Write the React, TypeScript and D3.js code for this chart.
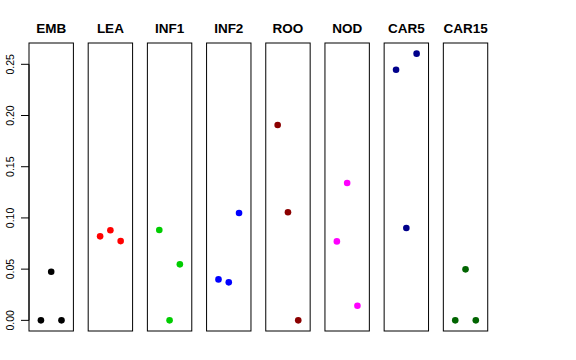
import React from "react";
import * as d3 from "d3";

const categories = ["EMB", "LEA", "INF1", "INF2", "ROO", "NOD", "CAR5", "CAR15"];
const colors = ["#000000", "#FF0000", "#00CD00", "#0000FF", "#8B0000", "#FF00FF", "#00008B", "#006400"];
const positions = [1, 2, 3];
const EMB = [0, 0.0475, 0];
const LEA = [0.082, 0.0879, 0.0774];
const INF1 = [0.0882, 0, 0.0547];
const INF2 = [0.040, 0.0371, 0.1048];
const ROO = [0.1907, 0.1055, 0];
const NOD = [0.0771, 0.1341, 0.0143];
const CAR5 = [0.2447, 0.0901, 0.2604];
const CAR15 = [0, 0.0498, 0];
const seriesValues = [EMB, LEA, INF1, INF2, ROO, NOD, CAR5, CAR15];
const yTicks = [0, 0.05, 0.1, 0.15, 0.2, 0.25];

const W = 576;
const H = 360;
const top = 43;
const bottom = 331;
const firstLeft = 29;
const step = 59.19;
const panelW = 44.4;
const font = "'Liberation Sans', Arial, Helvetica, sans-serif";

export default function App() {
  const y = d3.scaleLinear().domain([-0.0104, 0.2708]).range([bottom, top]);
  const panelX = d3.scaleLinear().domain([0, 1]).range([firstLeft, firstLeft + step]);
  return (
    <svg width={W} height={H} style={{ position: "absolute", left: 0, top: 0, background: "#fff" }}>
      <rect x={0} y={0} width={W} height={H} fill="#fff" />
      {/* y axis */}
      <line x1={firstLeft} x2={firstLeft} y1={y(0)} y2={y(0.25)} stroke="#000" strokeWidth={1} />
      {yTicks.map((t) => (
        <g key={t}>
          <line x1={firstLeft - 8} x2={firstLeft} y1={y(t)} y2={y(t)} stroke="#000" strokeWidth={1} />
          <text
            transform={`translate(13.5,${y(t)}) rotate(-90)`}
            textAnchor="middle"
            fontFamily={font}
            fontSize={10.5}
            fill="#000"
          >
            {d3.format(".2f")(t)}
          </text>
        </g>
      ))}
      {categories.map((c, i) => {
        const left = panelX(i);
        const x = d3.scaleLinear().domain([-0.16, 4.16]).range([left, left + panelW]);
        const vals = seriesValues[i];
        return (
          <g key={c}>
            <rect x={left} y={top} width={panelW} height={bottom - top} fill="none" stroke="#000" strokeWidth={1} />
            <text
              x={left + panelW / 2}
              y={33}
              textAnchor="middle"
              fontFamily={font}
              fontWeight="bold"
              fontSize={13.5}
              fill="#000"
            >
              {c}
            </text>
            {vals.map((v, j) => (
              <circle key={j} cx={x(positions[j])} cy={y(v)} r={3.3} fill={colors[i]} />
            ))}
          </g>
        );
      })}
    </svg>
  );
}
